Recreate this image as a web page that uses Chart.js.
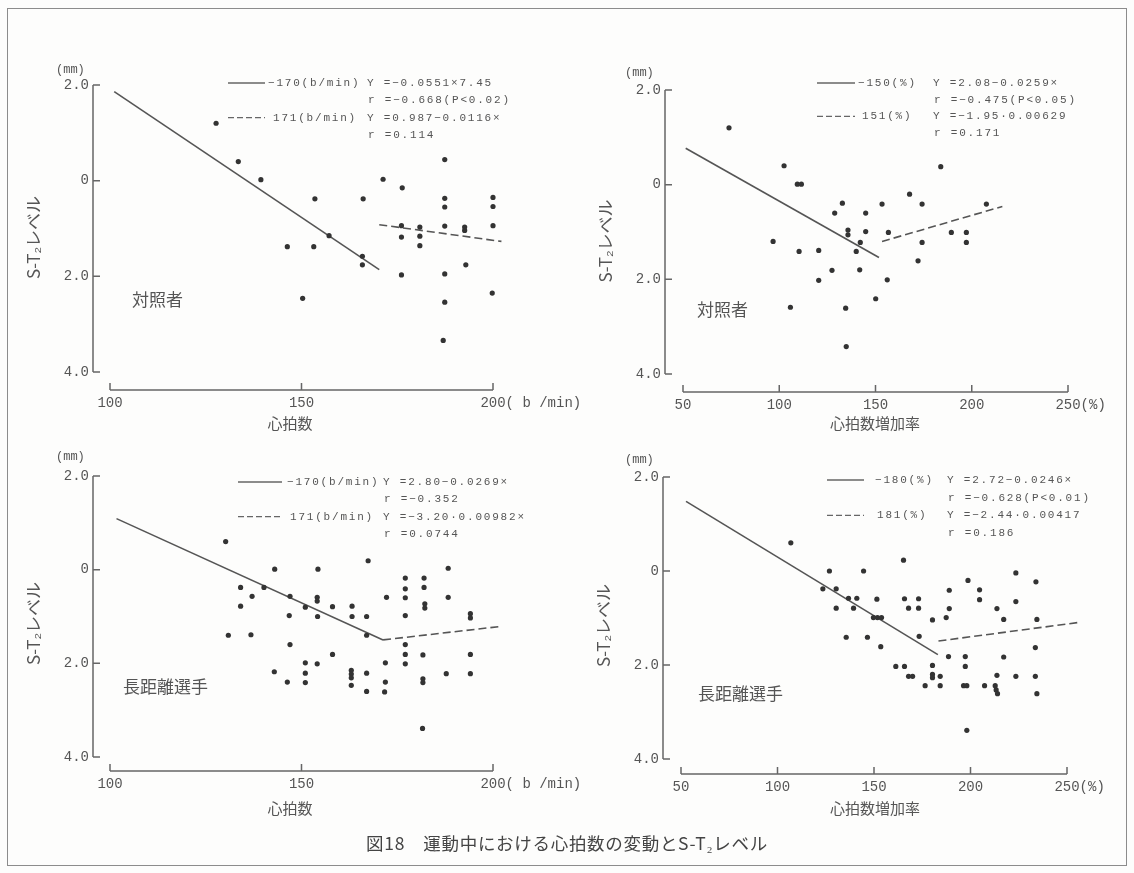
<!DOCTYPE html>
<html>
<head>
<meta charset="utf-8">
<script src="https://cdn.jsdelivr.net/npm/chart.js@4.4.1/dist/chart.umd.min.js"></script>
<style>
html, body { margin: 0; padding: 0; background: #fff; }
#page { position: relative; width: 1134px; height: 873px; overflow: hidden; background: #fdfdfc; }
#frame { position: absolute; left: 7px; top: 8px; width: 1118px; height: 856px; border: 1.5px solid #8c8c8c; }
canvas { position: absolute; left: 0; top: 0; }
#caption { position: absolute; left: 0; width: 1134px; top: 830px; text-align: center;
  font: 17.5px "Noto Sans CJK JP"; color: #444; letter-spacing: 0.7px; }
</style>
</head>
<body>
<div id="page">
  <div id="frame"></div>
  <canvas id="c1" width="1134" height="873"></canvas>
  <canvas id="c2" width="1134" height="873"></canvas>
  <canvas id="c3" width="1134" height="873"></canvas>
  <canvas id="c4" width="1134" height="873"></canvas>
  <div id="caption">図18　運動中における心拍数の変動とS-T₂レベル</div>
</div>
<script>
// axis ticks (S-T level: up = positive, labels show magnitude)
const yTicks = [2, 0, -2, -4];
const yTickLabels = ['2.0', '0', '2.0', '4.0'];
const hrTicks = [100, 150, 200];
const rateTicks = [50, 100, 150, 200, 250];

// 対照者 / 心拍数
const ctrlHrX = [127.7, 133.5, 139.4, 153.5, 166.1, 171.3, 176.3, 187.4, 187.4, 187.4, 187.4,
  200.0, 200.0, 200.0, 176.1, 176.1, 180.9, 180.9, 180.9, 192.6, 192.6, 192.9, 176.1, 187.4,
  187.4, 187.0, 199.8, 146.3, 153.2, 157.2, 165.9, 165.9, 150.3];
const ctrlHrY = [1.20, 0.40, 0.02, -0.38, -0.38, 0.03, -0.15, 0.44, -0.37, -0.55, -0.95,
  -0.35, -0.54, -0.94, -0.94, -1.18, -0.97, -1.16, -1.36, -0.97, -1.04, -1.76, -1.97, -1.95,
  -2.54, -3.34, -2.35, -1.38, -1.38, -1.15, -1.58, -1.76, -2.46];
const ctrlHrSolidX = [101.1, 170.3];
const ctrlHrSolidY = [1.86, -1.86];
const ctrlHrDashX = [170.3, 202.2];
const ctrlHrDashY = [-0.92, -1.27];

// 対照者 / 心拍数増加率
const ctrlRateX = [73.9, 102.5, 109.4, 111.5, 96.8, 110.3, 120.5, 120.5, 127.4, 128.8, 132.8,
  135.7, 135.7, 134.5, 134.8, 105.8, 140.0, 142.1, 141.8, 144.9, 144.9, 153.4, 156.7, 156.1,
  150.1, 167.7, 172.1, 174.2, 174.2, 183.9, 189.4, 197.2, 197.2, 207.6];
const ctrlRateY = [1.20, 0.40, 0.01, 0.01, -1.20, -1.41, -1.39, -2.02, -1.81, -0.60, -0.39,
  -0.96, -1.06, -2.61, -3.42, -2.59, -1.41, -1.22, -1.80, -0.60, -0.99, -0.41, -1.01, -2.01,
  -2.41, -0.20, -1.61, -0.41, -1.22, 0.38, -1.01, -1.01, -1.22, -0.41];
const ctrlRateSolidX = [51.4, 151.8];
const ctrlRateSolidY = [0.77, -1.54];
const ctrlRateDashX = [153.4, 215.9];
const ctrlRateDashY = [-1.20, -0.46];

// 長距離選手 / 心拍数
const runHrX = [130.2, 130.9, 134.1, 134.1, 137.1, 136.8, 140.2, 143.0, 142.9, 146.3, 146.8,
  147.0, 147.0, 151.0, 151.0, 151.0, 151.0, 154.1, 154.1, 154.3, 154.2, 154.1, 158.1, 158.1,
  163.2, 163.2, 163.0, 163.0, 163.0, 163.0, 167.0, 167.0, 167.0, 167.0, 167.4, 172.2, 171.9,
  171.9, 171.7, 177.1, 177.1, 177.1, 177.1, 177.1, 177.1, 177.1, 182.0, 182.0, 182.2, 182.2,
  181.7, 181.7, 181.7, 181.6, 188.3, 188.3, 187.8, 194.1, 194.1, 194.1, 194.1];
const runHrY = [0.60, -1.40, -0.38, -0.78, -0.57, -1.39, -0.38, 0.01, -2.18, -2.40, -0.98,
  -0.57, -1.60, -0.80, -1.99, -2.21, -2.41, -0.59, -0.67, 0.01, -1.00, -2.01, -0.79, -1.81,
  -0.78, -1.00, -2.15, -2.23, -2.31, -2.47, -1.00, -1.40, -2.21, -2.60, 0.19, -0.59, -1.99,
  -2.40, -2.61, -0.18, -0.41, -0.60, -0.98, -1.60, -1.81, -2.01, -0.18, -0.38, -0.73, -0.82,
  -1.82, -2.33, -2.41, -3.39, 0.03, -0.59, -2.22, -0.94, -1.03, -1.81, -2.22];
const runHrSolidX = [101.7, 171.3];
const runHrSolidY = [1.09, -1.50];
const runHrDashX = [171.3, 202.2];
const runHrDashY = [-1.50, -1.21];

// 長距離選手 / 心拍数増加率
const runRateX = [106.9, 126.9, 123.5, 130.4, 130.4, 135.6, 136.8, 141.1, 139.4, 144.6, 146.6,
  151.5, 149.7, 151.8, 153.9, 153.5, 161.3, 165.3, 165.8, 165.8, 167.9, 173.1, 173.1, 167.9,
  170.0, 173.4, 176.5, 180.3, 180.3, 180.3, 180.3, 184.3, 184.3, 187.4, 189.0, 189.0, 188.6,
  197.3, 197.3, 196.4, 198.1, 198.1, 198.7, 204.7, 204.7, 207.3, 212.8, 213.3, 214.0, 213.7,
  213.7, 217.2, 217.2, 223.5, 223.5, 223.5, 233.9, 234.4, 233.6, 233.6, 234.4];
const runRateY = [0.60, 0, -0.38, -0.38, -0.79, -1.41, -0.58, -0.58, -0.79, 0, -1.41,
  -0.60, -0.99, -0.99, -0.99, -1.61, -2.03, 0.23, -0.59, -2.03, -0.79, -0.79, -0.59, -2.24,
  -2.24, -1.39, -2.44, -1.04, -2.01, -2.20, -2.27, -2.24, -2.44, -0.99, -0.41, -0.80, -1.82,
  -1.82, -2.03, -2.44, -2.44, -3.39, -0.20, -0.40, -0.61, -2.44, -2.44, -2.53, -2.61, -0.80,
  -2.22, -1.83, -1.03, -0.04, -0.65, -2.24, -0.23, -1.03, -1.63, -2.24, -2.61];
const runRateSolidX = [52.6, 183.1];
const runRateSolidY = [1.48, -1.78];
const runRateDashX = [183.4, 256.9];
const runRateDashY = [-1.49, -1.09];

// legend texts: [sample label, equation lines]
const ctrlHrLegend = [['−170(b/min)', 'Y =−0.0551×7.45', 'r =−0.668(P<0.02)'],
                      ['171(b/min)', 'Y =0.987−0.0116×', 'r =0.114']];
const ctrlRateLegend = [['−150(%)', 'Y =2.08−0.0259×', 'r =−0.475(P<0.05)'],
                        ['151(%)', 'Y =−1.95·0.00629', 'r =0.171']];
const runHrLegend = [['−170(b/min)', 'Y =2.80−0.0269×', 'r =−0.352'],
                     ['171(b/min)', 'Y =−3.20·0.00982×', 'r =0.0744']];
const runRateLegend = [['−180(%)', 'Y =2.72−0.0246×', 'r =−0.628(P<0.01)'],
                       ['181(%)', 'Y =−2.44·0.00417', 'r =0.186']];

// panel layout (page pixels)
const panels = [
  { id: 'c1', xs: ctrlHrX, ys: ctrlHrY, sx: ctrlHrSolidX, sy: ctrlHrSolidY, dx: ctrlHrDashX, dy: ctrlHrDashY,
    legend: ctrlHrLegend, ticks: hrTicks, unit: '( b /min)', title: '心拍数', group: '対照者',
    axisX: 93, topPx: 85, y4Px: 372, axisYPx: 390, firstPx: 110, lastPx: 493, xMax: 205,
    titleX: 290, titleY: 423, groupX: 132, groupY: 300, mmX: 56, mmY: 70,
    leg: { s0: 228, s1: 265, lx: 268, dlx: 273, ex: 367, y0: 83, step: 17.3 } },
  { id: 'c2', xs: ctrlRateX, ys: ctrlRateY, sx: ctrlRateSolidX, sy: ctrlRateSolidY, dx: ctrlRateDashX, dy: ctrlRateDashY,
    legend: ctrlRateLegend, ticks: rateTicks, unit: '(%)', title: '心拍数増加率', group: '対照者',
    axisX: 665, topPx: 90, y4Px: 374, axisYPx: 392, firstPx: 683, lastPx: 1068, xMax: 255,
    titleX: 875, titleY: 423, groupX: 697, groupY: 310, mmX: 625, mmY: 73,
    leg: { s0: 817, s1: 855, lx: 858, dlx: 862, ex: 933, y0: 83, step: 16.7 } },
  { id: 'c3', xs: runHrX, ys: runHrY, sx: runHrSolidX, sy: runHrSolidY, dx: runHrDashX, dy: runHrDashY,
    legend: runHrLegend, ticks: hrTicks, unit: '( b /min)', title: '心拍数', group: '長距離選手',
    axisX: 93, topPx: 476, y4Px: 757, axisYPx: 771, firstPx: 110, lastPx: 493, xMax: 205,
    titleX: 290, titleY: 808, groupX: 123, groupY: 687, mmX: 56, mmY: 457,
    leg: { s0: 238, s1: 282, lx: 287, dlx: 290, ex: 383, y0: 482, step: 17.3 } },
  { id: 'c4', xs: runRateX, ys: runRateY, sx: runRateSolidX, sy: runRateSolidY, dx: runRateDashX, dy: runRateDashY,
    legend: runRateLegend, ticks: rateTicks, unit: '(%)', title: '心拍数増加率', group: '長距離選手',
    axisX: 663, topPx: 477, y4Px: 759, axisYPx: 774, firstPx: 681, lastPx: 1067, xMax: 260,
    titleX: 875, titleY: 808, groupX: 698, groupY: 694, mmX: 625, mmY: 460,
    leg: { s0: 827, s1: 864, lx: 875, dlx: 877, ex: 947, y0: 480, step: 17.7 } }
];

const W = 1134, H = 873;
const INK = '#555';
const MONO = '"Liberation Mono", "DejaVu Sans Mono", monospace';
const JP = '"Noto Sans CJK JP", sans-serif';
const TICK_FONT = 14, TICK_PAD = 5;

Chart.defaults.animation = false;
Chart.defaults.color = INK;

function pts(xs, ys) {
  return xs.map((x, i) => ({ x: x, y: ys[i] }));
}

// axes, inward ticks and free texts
function decorations(p) {
  return {
    id: 'stDecor',
    afterDraw(chart) {
      const { ctx, chartArea, scales: { x, y } } = chart;
      ctx.save();
      ctx.strokeStyle = '#666';
      ctx.lineWidth = 1.5;
      ctx.beginPath();
      const ax = chartArea.left;
      ctx.moveTo(ax, y.getPixelForValue(yTicks[0]));
      ctx.lineTo(ax, y.getPixelForValue(yTicks[yTicks.length - 1]));
      yTicks.forEach(v => {
        const py = y.getPixelForValue(v);
        ctx.moveTo(ax, py);
        ctx.lineTo(ax + 7, py);
      });
      const by = chartArea.bottom;
      ctx.moveTo(x.getPixelForValue(p.ticks[0]), by);
      ctx.lineTo(x.getPixelForValue(p.ticks[p.ticks.length - 1]), by);
      p.ticks.forEach(v => {
        const px = x.getPixelForValue(v);
        ctx.moveTo(px, by);
        ctx.lineTo(px, by - 7);
      });
      ctx.stroke();

      ctx.fillStyle = INK;
      ctx.textBaseline = 'middle';

      // unit after last tick label
      const last = p.ticks[p.ticks.length - 1];
      ctx.font = TICK_FONT + 'px ' + MONO;
      const lw = ctx.measureText(String(last)).width;
      ctx.textAlign = 'left';
      ctx.fillText(p.unit, x.getPixelForValue(last) + lw / 2, by + TICK_PAD + TICK_FONT * 0.6);

      // (mm)
      ctx.font = '12px ' + MONO;
      ctx.fillText('(mm)', p.mmX, p.mmY);

      // x title and group label
      ctx.font = '15px ' + JP;
      ctx.textAlign = 'center';
      ctx.fillText(p.title, p.titleX, p.titleY);
      ctx.font = '17px ' + JP;
      ctx.textAlign = 'left';
      ctx.fillText(p.group, p.groupX, p.groupY);

      // legend
      const L = p.leg;
      ctx.font = '11px ' + MONO;
      ctx.letterSpacing = '1.8px';
      p.legend.forEach((item, k) => {
        const row = L.y0 + k * 2 * L.step;
        ctx.beginPath();
        ctx.setLineDash(k === 0 ? [] : [6, 3]);
        ctx.lineWidth = 1.3;
        ctx.moveTo(L.s0, row);
        ctx.lineTo(L.s1, row);
        ctx.stroke();
        ctx.setLineDash([]);
        ctx.fillText(item[0], k === 0 ? L.lx : L.dlx, row);
        ctx.fillText(item[1], L.ex, row);
        ctx.fillText(item[2], L.ex + 1, row + L.step);
      });
      ctx.restore();
    }
  };
}

panels.forEach(p => {
  const yPpu = (p.y4Px - p.topPx) / 6;
  const yMin = -4 - (p.axisYPx - p.y4Px) / yPpu;
  const xFirst = p.ticks[0], xLast = p.ticks[p.ticks.length - 1];
  const xPpu = (p.lastPx - p.firstPx) / (xLast - xFirst);
  const xMin = xFirst - (p.firstPx - p.axisX) / xPpu;
  const areaRight = p.axisX + (p.xMax - xMin) * xPpu;
  const yBoxW = 74, xBoxH = 30;

  new Chart(document.getElementById(p.id), {
    type: 'scatter',
    data: {
      datasets: [
        { data: pts(p.xs, p.ys), pointRadius: 2.6, pointBackgroundColor: '#333', pointBorderWidth: 0 },
        { type: 'line', data: pts(p.sx, p.sy), borderColor: '#555', borderWidth: 1.6, pointRadius: 0 },
        { type: 'line', data: pts(p.dx, p.dy), borderColor: '#555', borderWidth: 1.6, pointRadius: 0, borderDash: [8, 4] }
      ]
    },
    options: {
      responsive: false,
      layout: { padding: { left: p.axisX - yBoxW, top: p.topPx, right: W - areaRight, bottom: H - p.axisYPx - xBoxH } },
      plugins: { legend: { display: false }, tooltip: { enabled: false } },
      scales: {
        x: {
          type: 'linear', min: xMin, max: p.xMax,
          grid: { display: false, drawTicks: false, tickLength: 0 }, border: { display: false },
          afterFit: s => { s.height = xBoxH; },
          afterBuildTicks: s => { s.ticks = p.ticks.map(v => ({ value: v })); },
          ticks: { autoSkip: false, maxRotation: 0, padding: TICK_PAD, color: INK,
                   font: { family: MONO, size: TICK_FONT }, callback: v => String(v) }
        },
        y: {
          type: 'linear', min: yMin, max: 2,
          grid: { display: false, drawTicks: false, tickLength: 0 }, border: { display: false },
          afterFit: s => { s.width = yBoxW; },
          afterBuildTicks: s => { s.ticks = yTicks.map(v => ({ value: v })); },
          ticks: { autoSkip: false, padding: 4, color: INK,
                   font: { family: MONO, size: TICK_FONT }, callback: v => yTickLabels[yTicks.indexOf(v)] },
          title: { display: true, text: 'S-T₂レベル', color: INK, font: { family: JP, size: 17 } }
        }
      }
    },
    plugins: [decorations(p)]
  });
});
</script>
</body>
</html>
